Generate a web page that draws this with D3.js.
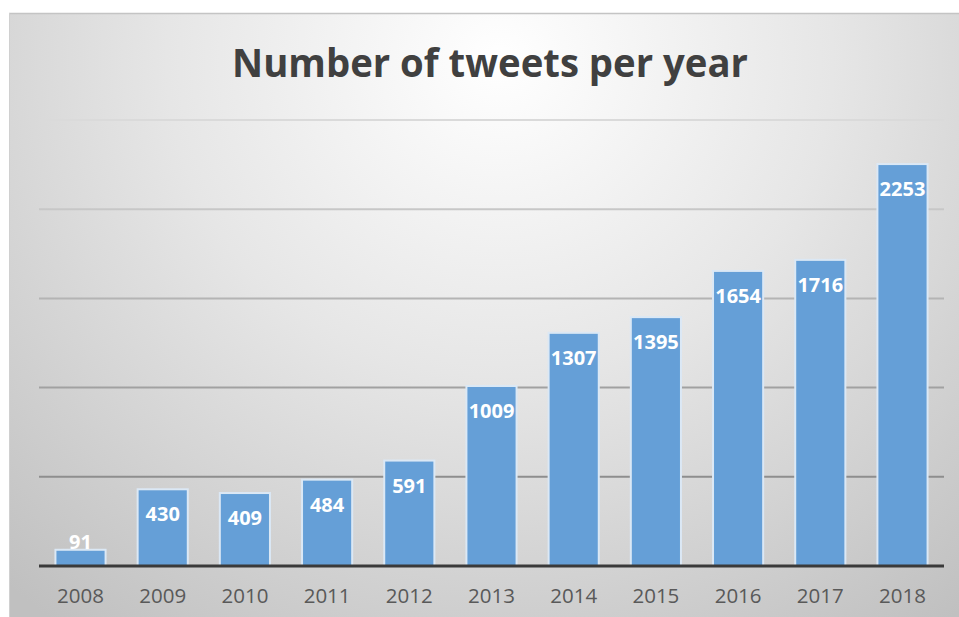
<!DOCTYPE html>
<html>
<head>
<meta charset="utf-8">
<script src="https://cdn.jsdelivr.net/npm/d3@7"></script>
<style>
  html, body { margin: 0; padding: 0; background: #fff; }
  svg { display: block; }
</style>
</head>
<body>
<div id="chart"></div>
<script>
const years = ["2008", "2009", "2010", "2011", "2012", "2013", "2014", "2015", "2016", "2017", "2018"];
const tweets = [91, 430, 409, 484, 591, 1009, 1307, 1395, 1654, 1716, 2253];
const gridTicks = [500, 1000, 1500, 2000, 2500];
const title = "Number of tweets per year";

const width = 959, height = 617;
const margin = { top: 120, right: 15, bottom: 51, left: 39 };

const svg = d3.select("#chart").append("svg")
  .attr("width", width)
  .attr("height", height);

// chart area background (radial gray fade)
const defs = svg.append("defs");
const grad = defs.append("radialGradient")
  .attr("id", "bg")
  .attr("gradientUnits", "userSpaceOnUse")
  .attr("cx", 500).attr("cy", 60).attr("r", 740)
  .attr("fx", 500).attr("fy", 60)
  .attr("gradientTransform", "translate(500,60) scale(1,0.95) translate(-500,-60)");
grad.append("stop").attr("offset", "0%").attr("stop-color", "#ffffff");
grad.append("stop").attr("offset", "45%").attr("stop-color", "#e6e6e6");
grad.append("stop").attr("offset", "100%").attr("stop-color", "#c0c0c0");

svg.append("rect")
  .attr("x", 9).attr("y", 13)
  .attr("width", width - 9).attr("height", height - 13)
  .attr("fill", "url(#bg)");
svg.append("line")
  .attr("x1", 9).attr("x2", width)
  .attr("y1", 13.5).attr("y2", 13.5)
  .attr("stroke", "#c4c4c4").attr("stroke-width", 1.5);
svg.append("line")
  .attr("x1", 9.5).attr("x2", 9.5)
  .attr("y1", 13).attr("y2", height)
  .attr("stroke", "#d0d0d0").attr("stroke-width", 1);

const x = d3.scaleBand()
  .domain(years)
  .range([margin.left, width - margin.right])
  .paddingInner(0.39)
  .paddingOuter(0.2);

const y = d3.scaleLinear()
  .domain([0, 2500])
  .range([height - margin.bottom, margin.top]);

// title
svg.append("text")
  .attr("x", 490)
  .attr("y", 77)
  .attr("text-anchor", "middle")
  .attr("font-family", "'Open Sans', sans-serif")
  .attr("font-weight", "bold")
  .attr("font-size", 40)
  .attr("fill", "#404040")
  .attr("textLength", 516)
  .attr("lengthAdjust", "spacingAndGlyphs")
  .text(title);

// gridlines
const gridColor = d3.scaleLinear().domain([500, 2500]).range(["#8e8e8e", "#dadada"]);
svg.append("g")
  .selectAll("line")
  .data(gridTicks)
  .join("line")
  .attr("x1", margin.left)
  .attr("x2", width - margin.right)
  .attr("y1", d => y(d))
  .attr("y2", d => y(d))
  .attr("stroke", d => gridColor(d))
  .attr("stroke-width", 2);

// bars
svg.append("g")
  .selectAll("rect")
  .data(years)
  .join("rect")
  .attr("x", d => x(d))
  .attr("y", (d, i) => y(tweets[i]))
  .attr("width", x.bandwidth())
  .attr("height", (d, i) => y(0) - y(tweets[i]))
  .attr("fill", "#659fd7")
  .attr("stroke", "#dbe8f5")
  .attr("stroke-width", 2);

// value labels
svg.append("g")
  .selectAll("text")
  .data(years)
  .join("text")
  .attr("x", d => x(d) + x.bandwidth() / 2)
  .attr("y", (d, i) => {
    const top = y(tweets[i]);
    return (y(0) - top) < 40 ? top - 1 : top + 32;
  })
  .attr("text-anchor", "middle")
  .attr("font-family", "'Open Sans', sans-serif")
  .attr("font-weight", "bold")
  .attr("font-size", 20)
  .attr("fill", "#ffffff")
  .text((d, i) => tweets[i]);

// baseline + x axis
const xAxis = svg.append("g")
  .attr("transform", `translate(0,${y(0)})`)
  .call(d3.axisBottom(x).tickSize(0).tickPadding(22));
xAxis.select(".domain")
  .attr("d", `M${margin.left},0H${width - margin.right}`)
  .attr("stroke", "#3a3a3a")
  .attr("stroke-width", 3);
xAxis.selectAll("text")
  .attr("font-family", "'Open Sans', sans-serif")
  .attr("font-size", 20.5)
  .attr("fill", "#595959");
</script>
</body>
</html>
